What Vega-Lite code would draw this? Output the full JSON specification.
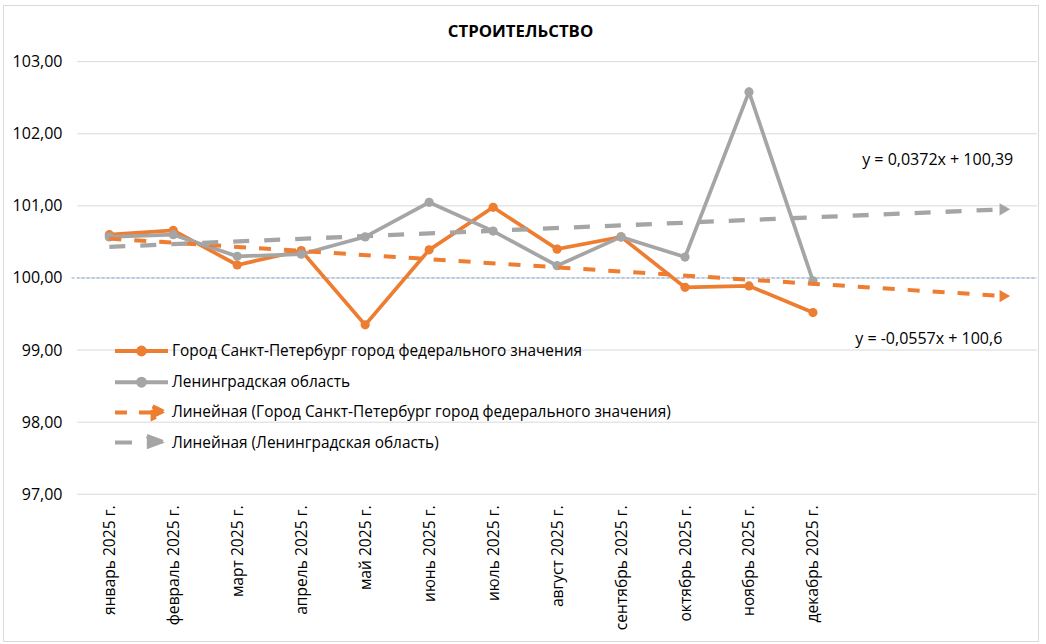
{
  "$schema": "https://vega.github.io/schema/vega-lite/v6.json",
  "width": 1035,
  "height": 636,
  "autosize": "none",
  "padding": {"left": 3, "top": 5, "right": 8, "bottom": 3},
  "background": "white",
  "config": {
    "view": {"stroke": "#d9d9d9", "strokeWidth": 1},
    "font": "Open Sans",
    "axis": {"labelFont": "Open Sans", "labelColor": "#000000"}
  },
  "title": {
    "text": "СТРОИТЕЛЬСТВО",
    "font": "Open Sans",
    "fontSize": 16.8,
    "fontWeight": "bold",
    "color": "#000000",
    "anchor": "middle",
    "frame": "group",
    "offset": -36
  },
  "data": {
    "values": [
      {"m": 1, "s": "Город Санкт-Петербург город федерального значения", "t": "Линейная (Город Санкт-Петербург город федерального значения)", "v": 100.60},
      {"m": 2, "s": "Город Санкт-Петербург город федерального значения", "t": "Линейная (Город Санкт-Петербург город федерального значения)", "v": 100.66},
      {"m": 3, "s": "Город Санкт-Петербург город федерального значения", "t": "Линейная (Город Санкт-Петербург город федерального значения)", "v": 100.18},
      {"m": 4, "s": "Город Санкт-Петербург город федерального значения", "t": "Линейная (Город Санкт-Петербург город федерального значения)", "v": 100.38},
      {"m": 5, "s": "Город Санкт-Петербург город федерального значения", "t": "Линейная (Город Санкт-Петербург город федерального значения)", "v": 99.35},
      {"m": 6, "s": "Город Санкт-Петербург город федерального значения", "t": "Линейная (Город Санкт-Петербург город федерального значения)", "v": 100.39},
      {"m": 7, "s": "Город Санкт-Петербург город федерального значения", "t": "Линейная (Город Санкт-Петербург город федерального значения)", "v": 100.98},
      {"m": 8, "s": "Город Санкт-Петербург город федерального значения", "t": "Линейная (Город Санкт-Петербург город федерального значения)", "v": 100.40},
      {"m": 9, "s": "Город Санкт-Петербург город федерального значения", "t": "Линейная (Город Санкт-Петербург город федерального значения)", "v": 100.57},
      {"m": 10, "s": "Город Санкт-Петербург город федерального значения", "t": "Линейная (Город Санкт-Петербург город федерального значения)", "v": 99.87},
      {"m": 11, "s": "Город Санкт-Петербург город федерального значения", "t": "Линейная (Город Санкт-Петербург город федерального значения)", "v": 99.89},
      {"m": 12, "s": "Город Санкт-Петербург город федерального значения", "t": "Линейная (Город Санкт-Петербург город федерального значения)", "v": 99.52},
      {"m": 1, "s": "Ленинградская область", "t": "Линейная (Ленинградская область)", "v": 100.57},
      {"m": 2, "s": "Ленинградская область", "t": "Линейная (Ленинградская область)", "v": 100.60},
      {"m": 3, "s": "Ленинградская область", "t": "Линейная (Ленинградская область)", "v": 100.30},
      {"m": 4, "s": "Ленинградская область", "t": "Линейная (Ленинградская область)", "v": 100.33},
      {"m": 5, "s": "Ленинградская область", "t": "Линейная (Ленинградская область)", "v": 100.57},
      {"m": 6, "s": "Ленинградская область", "t": "Линейная (Ленинградская область)", "v": 101.05},
      {"m": 7, "s": "Ленинградская область", "t": "Линейная (Ленинградская область)", "v": 100.65},
      {"m": 8, "s": "Ленинградская область", "t": "Линейная (Ленинградская область)", "v": 100.17},
      {"m": 9, "s": "Ленинградская область", "t": "Линейная (Ленинградская область)", "v": 100.57},
      {"m": 10, "s": "Ленинградская область", "t": "Линейная (Ленинградская область)", "v": 100.29},
      {"m": 11, "s": "Ленинградская область", "t": "Линейная (Ленинградская область)", "v": 102.58},
      {"m": 12, "s": "Ленинградская область", "t": "Линейная (Ленинградская область)", "v": 99.96}
    ]
  },
  "layer": [
    {
      "data": {"values": [{"g": 97}, {"g": 98}, {"g": 99}, {"g": 100}, {"g": 101}, {"g": 102}, {"g": 103}]},
      "mark": {"type": "rule", "color": "#d9d9d9", "strokeWidth": 1},
      "encoding": {
        "y": {"field": "g", "type": "quantitative", "scale": {"domain": [94.965, 103.786], "nice": false, "zero": false}},
        "x": {"datum": 0.5, "type": "quantitative", "scale": {"domain": [-0.662, 15.518], "nice": false, "zero": false}},
        "x2": {"datum": 15.5}
      }
    },
    {
      "data": {"values": [{"g": 100}]},
      "mark": {"type": "rule", "color": "#7fa8d8", "strokeWidth": 1, "strokeDash": [3, 2]},
      "encoding": {
        "y": {"field": "g", "type": "quantitative"},
        "x": {"datum": 0.41, "type": "quantitative"},
        "x2": {"datum": 15.5}
      }
    },
    {
      "mark": {"type": "line", "strokeWidth": 3.7, "point": {"filled": true, "size": 85, "opacity": 1}},
      "encoding": {
        "x": {
          "field": "m",
          "type": "quantitative",
          "axis": {
            "values": [1, 2, 3, 4, 5, 6, 7, 8, 9, 10, 11, 12],
            "labelExpr": "['январь 2025 г.','февраль 2025 г.','март 2025 г.','апрель 2025 г.','май 2025 г.','июнь 2025 г.','июль 2025 г.','август 2025 г.','сентябрь 2025 г.','октябрь 2025 г.','ноябрь 2025 г.','декабрь 2025 г.'][datum.value - 1]",
            "labelAngle": -90,
            "labelAlign": "right",
            "labelBaseline": "middle",
            "labelFont": "Open Sans",
            "labelFontSize": 15.6,
            "labelPadding": 11,
            "labelOverlap": false,
            "labelBound": false,
            "labelFlush": false,
            "ticks": false,
            "tickSize": 0,
            "domain": false,
            "grid": false,
            "title": null,
            "offset": -147
          }
        },
        "y": {
          "field": "v",
          "type": "quantitative",
          "axis": {
            "values": [97, 98, 99, 100, 101, 102, 103],
            "labelExpr": "replace(format(datum.value, '.2f'), '.', ',')",
            "labelFont": "Open Sans",
            "labelFontSize": 16,
            "labelPadding": 8,
            "labelOverlap": false,
            "labelBound": false,
            "labelFlush": false,
            "ticks": false,
            "tickSize": 0,
            "domain": false,
            "grid": false,
            "title": null,
            "offset": -67
          }
        },
        "color": {
          "field": "s",
          "type": "nominal",
          "scale": {
            "domain": [
              "Город Санкт-Петербург город федерального значения",
              "Ленинградская область",
              "Линейная (Город Санкт-Петербург город федерального значения)",
              "Линейная (Ленинградская область)"
            ],
            "range": ["#ed7d31", "#a5a5a5", "#ed7d31", "#a5a5a5"]
          },
          "legend": {
            "orient": "none",
            "legendX": 126.5,
            "legendY": 334,
            "title": null,
            "padding": 0,
            "labelFont": "Open Sans",
            "labelFontSize": 15.4,
            "labelColor": "#000000",
            "labelLimit": 800,
            "labelOffset": 18.5,
            "rowPadding": 1.2,
            "symbolSize": 400,
            "symbolStrokeWidth": 4,
            "symbolOpacity": 1,
            "symbolType": {"expr": "datum.value == 'Линейная (Ленинградская область)' ? 'M-2.65,0L0.53,0M0.53,-0.66L2.35,0L0.53,0.66Z' : (indexof(datum.value, 'Линейная') == 0 ? 'M-2.65,0L1.11,0M1.11,-0.6L2.35,0L1.11,0.6Z' : 'M-2.65,0L2.65,0M0.345,0A0.345,0.345,0,1,1,-0.345,0A0.345,0.345,0,1,1,0.345,0ZM0,-0.66M0,0.66')"},
            "symbolDash": {"expr": "datum.value == 'Линейная (Ленинградская область)' ? [17, 60] : (indexof(datum.value, 'Линейная') == 0 ? [12, 12] : [])"},
            "symbolFillColor": {"expr": "indexof(datum.value, 'Ленинградская') >= 0 ? '#a5a5a5' : '#ed7d31'"}
          }
        }
      }
    },
    {
      "transform": [
        {"filter": "datum.t == 'Линейная (Город Санкт-Петербург город федерального значения)'"},
        {"regression": "v", "on": "m", "groupby": ["t"], "extent": [1, 15]}
      ],
      "mark": {"type": "line", "strokeWidth": 4, "strokeDash": [12, 13]},
      "encoding": {
        "x": {"field": "m", "type": "quantitative"},
        "y": {"field": "v", "type": "quantitative"},
        "color": {"field": "t", "type": "nominal"}
      }
    },
    {
      "transform": [
        {"filter": "datum.t == 'Линейная (Ленинградская область)'"},
        {"regression": "v", "on": "m", "groupby": ["t"], "extent": [1, 15]}
      ],
      "mark": {"type": "line", "strokeWidth": 4.3, "strokeDash": [16, 15]},
      "encoding": {
        "x": {"field": "m", "type": "quantitative"},
        "y": {"field": "v", "type": "quantitative"},
        "color": {"field": "t", "type": "nominal"}
      }
    },
    {
      "transform": [
        {"regression": "v", "on": "m", "groupby": ["t"], "extent": [1, 15]},
        {"filter": "datum.m > 14"}
      ],
      "mark": {"type": "point", "shape": "triangle-right", "filled": true, "size": 150, "opacity": 1},
      "encoding": {
        "x": {"field": "m", "type": "quantitative"},
        "y": {"field": "v", "type": "quantitative"},
        "color": {"field": "t", "type": "nominal"}
      }
    },
    {
      "data": {"values": [{"k": "grey"}]},
      "mark": {"type": "text", "font": "Open Sans", "fontSize": 16, "color": "#000000", "align": "center", "baseline": "middle"},
      "encoding": {
        "x": {"datum": 13.95, "type": "quantitative"},
        "y": {"datum": 101.64, "type": "quantitative"},
        "text": {"value": "y = 0,0372x + 100,39"}
      }
    },
    {
      "data": {"values": [{"k": "orange"}]},
      "mark": {"type": "text", "font": "Open Sans", "fontSize": 16, "color": "#000000", "align": "center", "baseline": "middle"},
      "encoding": {
        "x": {"datum": 13.81, "type": "quantitative"},
        "y": {"datum": 99.155, "type": "quantitative"},
        "text": {"value": "y = -0,0557x + 100,6"}
      }
    }
  ]
}
